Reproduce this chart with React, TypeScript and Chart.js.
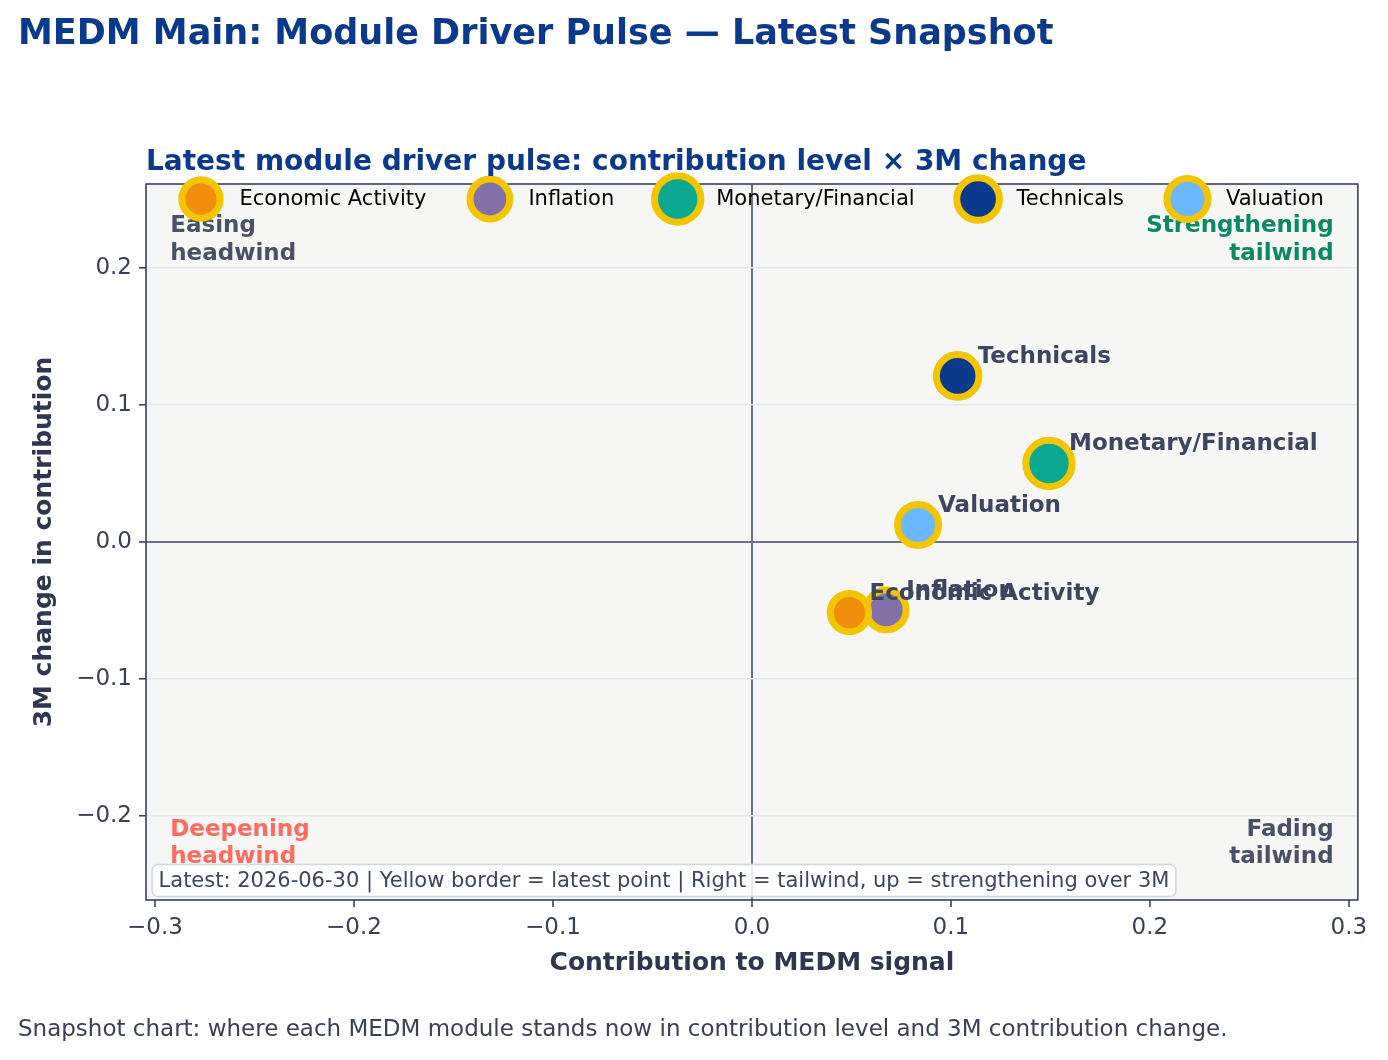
import { useEffect, useRef } from 'react';
import { Chart, registerables } from 'chart.js';

Chart.register(...registerables);

const FONT = "'DejaVu Sans', 'Noto Sans', sans-serif";

// Latest snapshot per MEDM module
const modules = ['Economic Activity', 'Inflation', 'Monetary/Financial', 'Technicals', 'Valuation'];
const contribution = [0.049, 0.0675, 0.1493, 0.1034, 0.0835];
const change3m = [-0.0515, -0.0496, 0.0573, 0.1212, 0.0124];
const moduleColors = ['#f28e0e', '#8470a8', '#0aa88f', '#0b3a8c', '#6cb8ff'];

const xTicks = [-0.3, -0.2, -0.1, 0, 0.1, 0.2, 0.3];
const yTicks = [-0.2, -0.1, 0, 0.1, 0.2];

const TITLE = 'MEDM Main: Module Driver Pulse — Latest Snapshot';
const SUBTITLE = 'Latest module driver pulse: contribution level × 3M change';
const FOOTER = 'Snapshot chart: where each MEDM module stands now in contribution level and 3M contribution change.';
const NOTE = 'Latest: 2026-06-30 | Yellow border = latest point | Right = tailwind, up = strengthening over 3M';
const X_TITLE = 'Contribution to MEDM signal';
const Y_TITLE = '3M change in contribution';

const quadrantText = [
  { lines: ['Easing', 'headwind'], corner: 'tl', color: '#4a5068' },
  { lines: ['Strengthening', 'tailwind'], corner: 'tr', color: '#0a8a64' },
  { lines: ['Deepening', 'headwind'], corner: 'bl', color: '#ff6b5e' },
  { lines: ['Fading', 'tailwind'], corner: 'br', color: '#4a5068' },
];

const LATEST_BORDER = '#f2c500';
const INK = '#3d4660';
const NAVY = '#0b3a8c';
const SPINE = '#3a4260';

// marker size grows with the size of the contribution
const markerRadius = (c: number) => 17.2 + 40 * Math.abs(c);

const fmtTick = (v: number) => (Math.abs(v) < 1e-9 ? '0.0' : v.toFixed(1).replace('-', '\u2212'));

const decorPlugin = {
  id: 'decor',
  beforeDraw(chart: any) {
    const { ctx, chartArea: a, width, height } = chart;
    ctx.save();
    ctx.fillStyle = '#ffffff';
    ctx.fillRect(0, 0, width, height);
    ctx.fillStyle = '#f6f6f4';
    ctx.fillRect(a.left, a.top, a.right - a.left, a.bottom - a.top);
    ctx.restore();
  },
  afterDatasetsDraw(chart: any) {
    const { ctx, chartArea: a } = chart;
    ctx.save();
    // point labels
    ctx.font = `bold 23px ${FONT}`;
    ctx.fillStyle = INK;
    ctx.textAlign = 'left';
    ctx.textBaseline = 'alphabetic';
    chart.data.datasets.forEach((ds: any, i: number) => {
      const el = chart.getDatasetMeta(i).data[0];
      if (!el) return;
      ctx.fillText(ds.label, el.x + 20, el.y - 13);
    });

    // frame
    ctx.strokeStyle = SPINE;
    ctx.lineWidth = 1.6;
    ctx.strokeRect(a.left, a.top, a.right - a.left, a.bottom - a.top);

    // quadrant captions
    const w = a.right - a.left;
    const h = a.bottom - a.top;
    const lh = 27.6;
    ctx.font = `bold 23px ${FONT}`;
    quadrantText.forEach((q) => {
      ctx.fillStyle = q.color;
      const right = q.corner[1] === 'r';
      ctx.textAlign = right ? 'right' : 'left';
      const x = right ? a.right - 0.02 * w : a.left + 0.02 * w;
      if (q.corner[0] === 't') {
        const b0 = a.top + 0.04 * h + 19.5;
        q.lines.forEach((l, k) => ctx.fillText(l, x, b0 + k * lh));
      } else {
        const bLast = a.bottom - 0.04 * h - 8;
        const n = q.lines.length;
        q.lines.forEach((l, k) => ctx.fillText(l, x, bLast - (n - 1 - k) * lh));
      }
    });

    // note box
    ctx.font = `21px ${FONT}`;
    const tw = ctx.measureText(NOTE).width;
    const bx = a.left + 0.005 * w;
    const by = a.bottom - 0.005 * h;
    const bh = 32;
    const bw = tw + 13;
    ctx.beginPath();
    ctx.roundRect(bx, by - bh, bw, bh, 6);
    ctx.fillStyle = 'rgba(255,255,255,0.86)';
    ctx.fill();
    ctx.strokeStyle = '#d3d8e0';
    ctx.lineWidth = 1.5;
    ctx.stroke();
    ctx.fillStyle = INK;
    ctx.textAlign = 'left';
    ctx.textBaseline = 'middle';
    ctx.fillText(NOTE, bx + 6.5, by - bh / 2 + 1);
    ctx.restore();
  },
  afterDraw(chart: any) {
    const { ctx, chartArea: a } = chart;
    ctx.save();
    // legend across the top of the plot
    ctx.font = `21px ${FONT}`;
    const handleLen = 42;
    const textPad = 17.5;
    const colSpace = 42.5;
    const labels = chart.data.datasets.map((d: any) => d.label as string);
    const widths = labels.map((l: string) => ctx.measureText(l).width);
    const total =
      widths.reduce((s: number, tw: number) => s + handleLen + textPad + tw, 0) + colSpace * (labels.length - 1);
    let x0 = (a.left + a.right) / 2 - total / 2;
    const ly = 199;
    chart.data.datasets.forEach((ds: any, i: number) => {
      const r = ds.pointRadius;
      ctx.beginPath();
      ctx.arc(x0 + handleLen / 2, ly, r, 0, Math.PI * 2);
      ctx.fillStyle = ds.backgroundColor;
      ctx.fill();
      ctx.lineWidth = ds.pointBorderWidth;
      ctx.strokeStyle = ds.pointBorderColor;
      ctx.stroke();
      ctx.fillStyle = '#000000';
      ctx.textAlign = 'left';
      ctx.textBaseline = 'middle';
      ctx.fillText(labels[i], x0 + handleLen + textPad, ly + 1);
      x0 += handleLen + textPad + widths[i] + colSpace;
    });

    // headings and footer
    ctx.textAlign = 'left';
    ctx.textBaseline = 'alphabetic';
    ctx.fillStyle = NAVY;
    ctx.font = `bold 35px ${FONT}`;
    ctx.fillText(TITLE, 18, 44);
    ctx.font = `bold 28px ${FONT}`;
    ctx.fillText(SUBTITLE, a.left, 170);
    ctx.fillStyle = '#3a4058';
    ctx.font = `23px ${FONT}`;
    ctx.fillText(FOOTER, 18, 1036);
    ctx.restore();
  },
};

export default function App() {
  const ref = useRef<HTMLCanvasElement | null>(null);

  useEffect(() => {
    if (!ref.current) return;
    const datasets = modules.map((m, i) => ({
      label: m,
      data: [{ x: contribution[i], y: change3m[i] }],
      backgroundColor: moduleColors[i],
      pointBackgroundColor: moduleColors[i],
      pointBorderColor: LATEST_BORDER,
      pointBorderWidth: 7,
      pointRadius: markerRadius(contribution[i]),
      pointHoverRadius: markerRadius(contribution[i]),
      pointHoverBorderWidth: 7,
      showLine: false,
    }));

    const chart = new Chart(ref.current, {
      type: 'scatter',
      data: { datasets },
      plugins: [decorPlugin],
      options: {
        responsive: false,
        animation: false,
        devicePixelRatio: 1,
        events: [],
        layout: { padding: { top: 184, right: 26, bottom: 82, left: 29 } },
        plugins: {
          legend: { display: false },
          tooltip: { enabled: false },
          title: { display: false },
        },
        scales: {
          x: {
            type: 'linear',
            min: -0.3045,
            max: 0.3045,
            afterBuildTicks: (s: any) => {
              s.ticks = xTicks.map((v) => ({ value: v }));
            },
            afterFit: (s: any) => {
              s.height = 78;
            },
            ticks: {
              callback: (v: any) => fmtTick(Number(v)),
              font: { family: FONT, size: 23 },
              color: '#3a4058',
              padding: 7,
              autoSkip: false,
              maxRotation: 0,
              includeBounds: false,
            },
            grid: {
              color: (c: any) => (c.tick && Math.abs(c.tick.value) < 1e-9 ? '#6b7285' : 'rgba(0,0,0,0)'),
              lineWidth: 2,
              drawTicks: true,
              tickLength: 7,
              tickColor: SPINE,
              tickWidth: 1.6,
            },
            border: { display: false },
            title: {
              display: true,
              text: X_TITLE,
              color: '#2e3650',
              font: { family: FONT, size: 25, weight: 'bold' },
              padding: 0,
            },
          },
          y: {
            type: 'linear',
            min: -0.2613,
            max: 0.2613,
            afterBuildTicks: (s: any) => {
              s.ticks = yTicks.map((v) => ({ value: v }));
            },
            afterFit: (s: any) => {
              s.width = 117;
            },
            ticks: {
              callback: (v: any) => fmtTick(Number(v)),
              font: { family: FONT, size: 23 },
              color: '#3a4058',
              padding: 7,
              autoSkip: false,
              includeBounds: false,
            },
            grid: {
              color: (c: any) => (c.tick && Math.abs(c.tick.value) < 1e-9 ? '#6b7285' : '#e4e7eb'),
              lineWidth: (c: any) => (c.tick && Math.abs(c.tick.value) < 1e-9 ? 2 : 1.5),
              drawTicks: true,
              tickLength: 7,
              tickColor: SPINE,
              tickWidth: 1.6,
            },
            border: { display: false },
            title: {
              display: true,
              text: Y_TITLE,
              color: '#2e3650',
              font: { family: FONT, size: 25, weight: 'bold' },
              padding: 0,
            },
          },
        },
      } as any,
    });
    return () => chart.destroy();
  }, []);

  return (
    <div style={{ position: 'fixed', left: 0, top: 0, width: 1388, height: 1060, background: '#ffffff' }}>
      <canvas ref={ref} width={1388} height={1060} style={{ width: 1388, height: 1060, display: 'block' }} />
    </div>
  );
}
